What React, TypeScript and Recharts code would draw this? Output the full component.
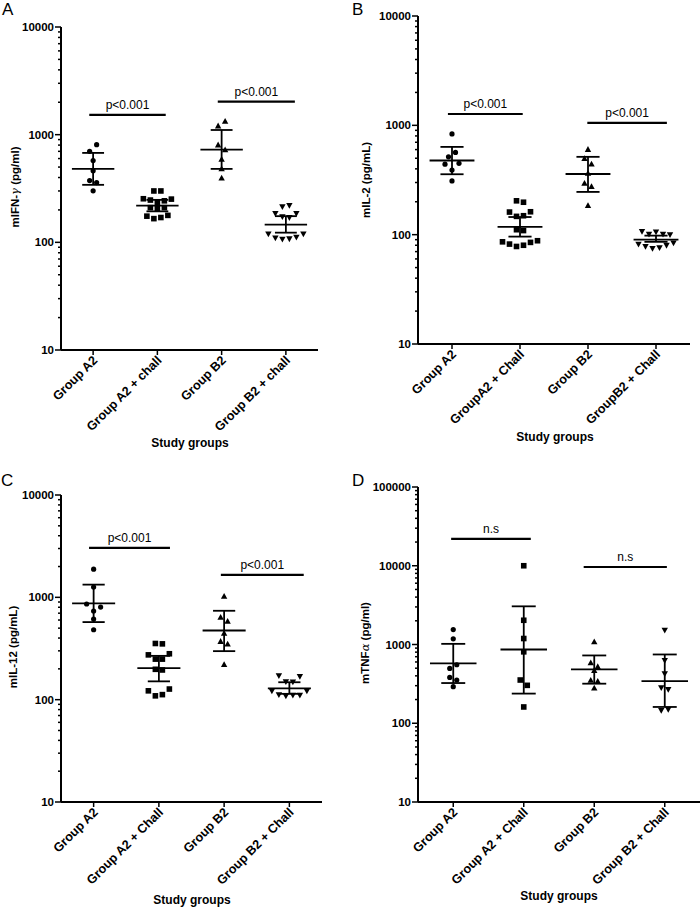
import React from 'react';
import { ScatterChart, Scatter, XAxis, YAxis, ReferenceLine } from 'recharts';

const FONT = '"Liberation Sans", Arial, Helvetica, sans-serif';

// ---------- categories ----------
const catsA = ['Group A2', 'Group A2 + chall', 'Group B2', 'Group B2 + chall'];
const catsB = ['Group A2', 'GroupA2 + Chall', 'Group B2', 'GroupB2 + Chall'];
const catsCD = ['Group A2', 'Group A2 + Chall', 'Group B2', 'Group B2 + Chall'];

// ---------- Panel A : IFN-gamma ----------
const ifnA2 = [700, 807, 574, 461, 375, 359, 301];
const ifnA2Chall = [300, 300, 254, 247, 236, 243, 252, 210, 205, 210, 175, 166, 170, 178];
const ifnB2 = [1203, 1328, 802, 721, 590, 481, 394];
const ifnB2Chall = [215, 220, 186, 173, 170, 186, 120, 110, 107, 108, 112, 120];
const ifnMean = [481, 219, 726, 146];
const ifnLow = [342, 194, 481, 123];
const ifnHigh = [677, 248, 1105, 175];
const ifnCompFrom = [0.44, 2.44];
const ifnCompTo = [1.63, 3.64];
const ifnCompY = [1524, 2023];
const ifnCompText = ['p<0.001', 'p<0.001'];

// ---------- Panel B : IL-2 ----------
const il2A2 = [834, 515, 565, 441, 390, 449, 310];
const il2A2Chall = [204, 198, 161, 147, 149, 162, 111, 109, 86, 82, 78, 80, 85, 88];
const il2B2 = [601, 497, 442, 364, 295, 275, 184];
const il2B2Chall = [107, 101, 106, 101, 100, 82, 78, 75, 76, 80, 84];
const il2Mean = [477, 118, 359, 90];
const il2Low = [357, 96, 246, 86];
const il2High = [635, 145, 515, 98];
const il2CompFrom = [0.44, 2.49];
const il2CompTo = [1.54, 3.66];
const il2CompY = [1270, 1052];
const il2CompText = ['p<0.001', 'p<0.001'];

// ---------- Panel C : IL-12 ----------
const il12A2 = [1884, 1262, 861, 735, 804, 614, 482];
const il12A2Chall = [354, 351, 274, 249, 249, 281, 198, 195, 122, 109, 112, 127];
const il12B2 = [1023, 637, 582, 445, 370, 349, 220];
const il12B2Chall = [172, 150, 149, 169, 122, 112, 109, 111, 111, 122];
const il12Mean = [873, 203, 474, 129];
const il12Low = [573, 151, 298, 114];
const il12High = [1331, 268, 739, 148];
const il12CompFrom = [0.43, 2.45];
const il12CompTo = [1.67, 3.72];
const il12CompY = [3040, 1655];
const il12CompText = ['p<0.001', 'p<0.001'];

// ---------- Panel D : TNF-alpha ----------
const tnfA2 = [1549, 1180, 497, 553, 382, 354, 291];
const tnfA2Chall = [10000, 2031, 1191, 807, 354, 303, 161];
const tnfB2 = [1081, 586, 522, 465, 350, 340, 280];
const tnfB2Chall = [1518, 627, 426, 283, 269, 146, 150];
const tnfMean = [575, 864, 483, 343];
const tnfLow = [324, 238, 318, 161];
const tnfHigh = [1019, 3053, 726, 747];
const tnfCompFrom = [0.47, 2.35];
const tnfCompTo = [1.6, 3.53];
const tnfCompY = [21900, 9640];
const tnfCompText = ['n.s', 'n.s'];

// ---------- helpers ----------
// GraphPad-like row layout: values close together are spread horizontally and centred
function swarm(values: number[], pxPerDecade: number, thresholdPx = 7.5, stepPx = 7) {
  const idx = values.map((_, i) => i).sort((a, b) => values[b] - values[a]);
  const offsets = new Array(values.length).fill(0);
  let row: number[] = [];
  let rowTop = 0;
  const flush = () => {
    const ordered = [...row].sort((a, b) => a - b);
    ordered.forEach((k, j) => {
      offsets[k] = (j - (ordered.length - 1) / 2) * stepPx;
    });
  };
  idx.forEach((k) => {
    const l = Math.log10(values[k]);
    if (row.length && (rowTop - l) * pxPerDecade <= thresholdPx) row.push(k);
    else {
      if (row.length) flush();
      row = [k];
      rowTop = l;
    }
  });
  if (row.length) flush();
  return offsets;
}

const Circle = (p: any) => <circle cx={p.cx} cy={p.cy} r={2.6} fill="#000" />;
const Square = (p: any) => <rect x={p.cx - 2.8} y={p.cy - 2.8} width={5.6} height={5.6} fill="#000" />;
const TriUp = (p: any) => (
  <polygon points={`${p.cx},${p.cy - 3.4} ${p.cx - 3.2},${p.cy + 2.4} ${p.cx + 3.2},${p.cy + 2.4}`} fill="#000" />
);
const TriDown = (p: any) => (
  <polygon points={`${p.cx},${p.cy + 3.4} ${p.cx - 3.2},${p.cy - 2.4} ${p.cx + 3.2},${p.cy - 2.4}`} fill="#000" />
);
const SHAPES = [Circle, Square, TriUp, TriDown];

const YTick = (props: any) => {
  const { x, y, payload } = props;
  const v = payload.value;
  const lg = Math.log10(v);
  const major = Math.abs(lg - Math.round(lg)) < 1e-6;
  return (
    <g>
      <line x1={x - (major ? 6 : 3)} y1={y} x2={x} y2={y} stroke="#000" strokeWidth={1.5} />
      {major && (
        <text x={x - 7} y={y} dy="0.35em" textAnchor="end" fontSize={11.5} fontWeight="bold" fontFamily={FONT} fill="#000">
          {v}
        </text>
      )}
    </g>
  );
};

const makeXTick = (labels: string[]) => (props: any) => {
  const { x, y, payload } = props;
  const i = Math.round(payload.value - 0.5);
  const ax = x + 5;
  const ay = y + 11;
  return (
    <g>
      <line x1={x} y1={y} x2={x} y2={y + 5} stroke="#000" strokeWidth={1.5} />
      <text x={ax} y={ay} transform={`rotate(-45, ${ax}, ${ay})`} textAnchor="end" fontSize={12.6} fontWeight="bold" fontFamily={FONT} fill="#000">
        {labels[i]}
      </text>
    </g>
  );
};

type PanelProps = {
  left: number;
  top: number;
  width: number;
  height: number;
  margin: { top: number; right: number; bottom: number; left: number };
  yMax: number;
  cats: string[];
  groups: number[][];
  mean: number[];
  low: number[];
  high: number[];
  compFrom: number[];
  compTo: number[];
  compY: number[];
  compText: string[];
};

const Y_AXIS_W = 40;
const X_AXIS_H = 90;

function Panel(p: PanelProps) {
  const plotW = p.width - p.margin.left - p.margin.right - Y_AXIS_W;
  const plotH = p.height - p.margin.top - p.margin.bottom - X_AXIS_H;
  const decades = Math.log10(p.yMax) - 1;
  const pxPerDecade = plotH / decades;
  const pxPerUnit = plotW / 4;

  const ticks: number[] = [];
  for (let k = 1; k < Math.log10(p.yMax); k++) {
    for (let m = 1; m <= 9; m++) ticks.push(m * Math.pow(10, k));
  }
  ticks.push(p.yMax);

  const series = p.groups.map((vals, i) => {
    const off = swarm(vals, pxPerDecade);
    return vals.map((v, k) => ({ x: i + 0.5 + off[k] / pxPerUnit, y: v }));
  });

  const MEAN_HW = 0.33;
  const CAP_HW = 0.17;
  const SW = 1.8;

  return (
    <div style={{ position: 'absolute', left: p.left, top: p.top }}>
      <ScatterChart width={p.width} height={p.height} margin={p.margin}>
        <XAxis
          type="number"
          dataKey="x"
          domain={[0, 4]}
          ticks={[0.5, 1.5, 2.5, 3.5]}
          interval={0}
          allowDataOverflow
          height={X_AXIS_H}
          tickLine={false}
          tickSize={0}
          tickMargin={0}
          axisLine={{ stroke: '#000', strokeWidth: 2 }}
          tick={makeXTick(p.cats)}
        />
        <YAxis
          type="number"
          dataKey="y"
          scale="log"
          domain={[10, p.yMax]}
          allowDataOverflow
          ticks={ticks}
          interval={0}
          width={Y_AXIS_W}
          tickLine={false}
          tickSize={0}
          tickMargin={0}
          axisLine={{ stroke: '#000', strokeWidth: 2 }}
          tick={YTick}
        />
        {p.mean.map((m, i) => (
          <ReferenceLine
            key={`m${i}`}
            segment={[{ x: i + 0.5 - MEAN_HW, y: m }, { x: i + 0.5 + MEAN_HW, y: m }]}
            stroke="#000"
            strokeWidth={SW}
            ifOverflow="visible"
          />
        ))}
        {p.low.map((lo, i) => (
          <ReferenceLine
            key={`v${i}`}
            segment={[{ x: i + 0.5, y: lo }, { x: i + 0.5, y: p.high[i] }]}
            stroke="#000"
            strokeWidth={SW}
            ifOverflow="visible"
          />
        ))}
        {p.low.map((lo, i) => (
          <ReferenceLine
            key={`l${i}`}
            segment={[{ x: i + 0.5 - CAP_HW, y: lo }, { x: i + 0.5 + CAP_HW, y: lo }]}
            stroke="#000"
            strokeWidth={SW}
            ifOverflow="visible"
          />
        ))}
        {p.high.map((hi, i) => (
          <ReferenceLine
            key={`h${i}`}
            segment={[{ x: i + 0.5 - CAP_HW, y: hi }, { x: i + 0.5 + CAP_HW, y: hi }]}
            stroke="#000"
            strokeWidth={SW}
            ifOverflow="visible"
          />
        ))}
        {p.compFrom.map((f, i) => (
          <ReferenceLine
            key={`c${i}`}
            segment={[{ x: f, y: p.compY[i] }, { x: p.compTo[i], y: p.compY[i] }]}
            stroke="#000"
            strokeWidth={2.2}
            ifOverflow="visible"
            label={{
              value: p.compText[i],
              position: 'top',
              offset: 6,
              fill: '#000',
              fontSize: 12,
              fontFamily: FONT,
            }}
          />
        ))}
        {series.map((data, i) => {
          const Shape = SHAPES[i];
          return (
            <Scatter
              key={`s${i}`}
              data={data}
              isAnimationActive={false}
              shape={(sp: any) => <Shape cx={sp.cx} cy={sp.cy} />}
            />
          );
        })}
      </ScatterChart>
    </div>
  );
}

const txt = { fontFamily: FONT, fill: '#000' } as const;

function Overlay() {
  const yTitle = (cx: number, cy: number, content: React.ReactNode) => (
    <text
      x={cx}
      y={cy}
      transform={`rotate(-90, ${cx}, ${cy})`}
      textAnchor="middle"
      dominantBaseline="central"
      fontSize={11.5}
      fontWeight="bold"
      {...txt}
    >
      {content}
    </text>
  );
  const xTitle = (cx: number, by: number) => (
    <text x={cx} y={by} textAnchor="middle" fontSize={12} fontWeight="bold" {...txt}>
      Study groups
    </text>
  );
  const letter = (x: number, y: number, s: string) => (
    <text x={x} y={y} fontSize={17} {...txt}>
      {s}
    </text>
  );
  return (
    <svg width={700} height={907} style={{ position: 'absolute', left: 0, top: 0, pointerEvents: 'none' }}>
      {letter(2, 15, 'A')}
      {letter(352, 15, 'B')}
      {letter(1, 486, 'C')}
      {letter(352, 486, 'D')}
      {yTitle(15, 187, (
        <>
          mIFN-
          <tspan fontFamily="DejaVu Serif, serif" fontStyle="italic" fontWeight="normal">γ</tspan> (pg/ml)
        </>
      ))}
      {yTitle(366, 180, 'mIL-2 (pg/mL)')}
      {yTitle(13, 647, 'mIL-12 (pg/mL)')}
      {yTitle(365, 643, (
        <>
          mTNF
          <tspan fontFamily="DejaVu Serif, serif" fontStyle="italic" fontWeight="normal">α</tspan> (pg/ml)
        </>
      ))}
      {xTitle(190, 447)}
      {xTitle(555, 441)}
      {xTitle(192, 904)}
      {xTitle(559, 900)}
    </svg>
  );
}

export default function App() {
  return (
    <div style={{ position: 'absolute', left: 0, top: 0, width: 700, height: 907, background: '#fff', overflow: 'hidden' }}>
      <Panel
        left={0}
        top={0}
        width={350}
        height={453}
        margin={{ top: 27, right: 32, bottom: 13, left: 21 }}
        yMax={10000}
        cats={catsA}
        groups={[ifnA2, ifnA2Chall, ifnB2, ifnB2Chall]}
        mean={ifnMean}
        low={ifnLow}
        high={ifnHigh}
        compFrom={ifnCompFrom}
        compTo={ifnCompTo}
        compY={ifnCompY}
        compText={ifnCompText}
      />
      <Panel
        left={350}
        top={0}
        width={350}
        height={453}
        margin={{ top: 16, right: 10, bottom: 19, left: 28 }}
        yMax={10000}
        cats={catsB}
        groups={[il2A2, il2A2Chall, il2B2, il2B2Chall]}
        mean={il2Mean}
        low={il2Low}
        high={il2High}
        compFrom={il2CompFrom}
        compTo={il2CompTo}
        compY={il2CompY}
        compText={il2CompText}
      />
      <Panel
        left={0}
        top={453}
        width={350}
        height={454}
        margin={{ top: 42, right: 28, bottom: 15, left: 21 }}
        yMax={10000}
        cats={catsCD}
        groups={[il12A2, il12A2Chall, il12B2, il12B2Chall]}
        mean={il12Mean}
        low={il12Low}
        high={il12High}
        compFrom={il12CompFrom}
        compTo={il12CompTo}
        compY={il12CompY}
        compText={il12CompText}
      />
      <Panel
        left={350}
        top={453}
        width={350}
        height={454}
        margin={{ top: 34, right: 0, bottom: 15, left: 28 }}
        yMax={100000}
        cats={catsCD}
        groups={[tnfA2, tnfA2Chall, tnfB2, tnfB2Chall]}
        mean={tnfMean}
        low={tnfLow}
        high={tnfHigh}
        compFrom={tnfCompFrom}
        compTo={tnfCompTo}
        compY={tnfCompY}
        compText={tnfCompText}
      />
      <Overlay />
    </div>
  );
}
